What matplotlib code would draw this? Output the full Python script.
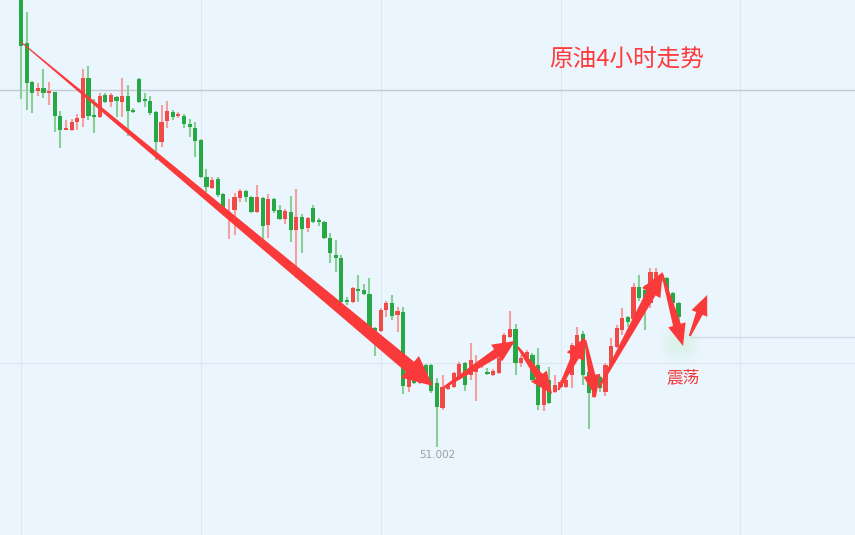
import numpy as np
import matplotlib
matplotlib.use("Agg")
from matplotlib import pyplot as plt
from matplotlib.patches import Polygon
from matplotlib.transforms import IdentityTransform

plt.rcParams['font.family'] = ['Noto Sans CJK SC', 'DejaVu Sans']

# 4h candles, crude oil (open, high, low, close)
opens = [55.55, 55.04, 54.65, 54.56, 54.59, 54.54, 54.55, 54.31, 54.17, 54.17,
         54.25, 54.29, 54.69, 54.32, 54.30, 54.52, 54.45, 54.50, 54.45, 54.51,
         54.37, 54.68, 54.48, 54.46, 54.35, 54.05, 54.26, 54.35, 54.31, 54.31,
         54.23, 54.19, 54.07, 53.70, 53.59, 53.68, 53.53, 53.32, 53.37, 53.49,
         53.56, 53.50, 53.35, 53.49, 53.22, 53.48, 53.37, 53.28, 53.35, 53.17,
         53.30, 53.19, 53.39, 53.26, 53.25, 53.09, 52.92, 52.89, 52.47, 52.45,
         52.58, 52.57, 52.53, 52.19, 52.16, 52.37, 52.44, 52.32, 52.35, 51.60,
         51.72, 51.64, 51.82, 51.82, 51.64, 51.39, 51.58, 51.60, 51.69, 51.84,
         51.72, 51.75, 51.81, 51.75, 51.72, 51.74, 52.00, 52.10, 52.18, 51.84,
         51.88, 51.92, 51.82, 51.42, 51.67, 51.55, 51.60, 51.60, 51.72, 51.89,
         52.13, 51.75, 51.50, 51.70, 51.55, 51.82, 52.00, 52.17, 52.30, 52.28,
         52.60, 52.57, 52.44, 52.62, 52.72, 52.69, 52.54, 52.44]
highs = [55.62, 55.35, 54.66, 54.64, 54.78, 54.65, 54.55, 54.36, 54.27, 54.28,
         54.33, 54.78, 54.81, 54.48, 54.54, 54.54, 54.54, 54.51, 54.69, 54.62,
         54.39, 54.69, 54.54, 54.51, 54.36, 54.42, 54.46, 54.37, 54.35, 54.33,
         54.28, 54.25, 54.08, 53.78, 53.70, 53.70, 53.54, 53.48, 53.54, 53.58,
         53.57, 53.51, 53.62, 53.50, 53.53, 53.49, 53.42, 53.38, 53.51, 53.58,
         53.33, 53.30, 53.42, 53.29, 53.26, 53.14, 53.07, 52.92, 52.50, 52.60,
         52.72, 52.63, 52.69, 52.20, 52.39, 52.46, 52.52, 52.40, 52.40, 51.75,
         51.80, 51.84, 51.83, 51.83, 51.69, 51.72, 51.63, 51.75, 51.85, 51.85,
         52.04, 51.92, 51.85, 51.79, 51.78, 51.90, 52.14, 52.36, 52.23, 51.92,
         51.97, 51.94, 51.99, 51.72, 51.80, 51.72, 51.67, 51.74, 52.04, 52.20,
         52.16, 51.77, 51.65, 51.71, 51.84, 52.09, 52.22, 52.39, 52.31, 52.64,
         52.72, 52.62, 52.79, 52.79, 52.74, 52.70, 52.55, 52.45]
lows = [54.48, 54.37, 54.34, 54.51, 54.49, 54.42, 54.15, 53.99, 54.17, 54.16,
        54.17, 54.20, 54.27, 54.14, 54.29, 54.44, 54.40, 54.30, 54.30, 54.11,
        54.34, 54.44, 54.40, 54.32, 53.87, 54.00, 54.19, 54.27, 54.29, 54.19,
        54.10, 53.90, 53.69, 53.55, 53.58, 53.50, 53.32, 53.08, 53.12, 53.45,
        53.45, 53.34, 53.34, 52.98, 53.09, 53.34, 53.27, 53.23, 53.05, 52.69,
        52.94, 53.15, 53.24, 53.21, 53.08, 52.84, 52.75, 52.34, 52.42, 52.44,
        52.45, 52.52, 52.17, 51.91, 52.15, 52.30, 52.27, 52.15, 51.53, 51.55,
        51.63, 51.63, 51.66, 51.54, 51.002, 51.37, 51.57, 51.59, 51.67, 51.56,
        51.67, 51.46, 51.79, 51.72, 51.71, 51.73, 51.99, 52.09, 51.72, 51.80,
        51.85, 51.65, 51.37, 51.36, 51.43, 51.54, 51.59, 51.59, 51.59, 51.87,
        51.62, 51.18, 51.49, 51.55, 51.51, 51.81, 51.99, 52.12, 52.20, 52.27,
        52.46, 52.17, 52.39, 52.59, 52.65, 52.54, 52.29, 52.17]
closes = [55.01, 54.64, 54.54, 54.59, 54.54, 54.55, 54.31, 54.17, 54.19, 54.25,
          54.29, 54.69, 54.31, 54.30, 54.51, 54.45, 54.52, 54.46, 54.51, 54.36,
          54.35, 54.45, 54.46, 54.34, 54.05, 54.25, 54.36, 54.30, 54.33, 54.23,
          54.20, 54.06, 53.70, 53.60, 53.67, 53.52, 53.34, 53.35, 53.50, 53.56,
          53.50, 53.35, 53.50, 53.21, 53.48, 53.36, 53.28, 53.36, 53.17, 53.30,
          53.18, 53.29, 53.25, 53.25, 53.09, 52.94, 52.89, 52.45, 52.45, 52.59,
          52.56, 52.53, 52.19, 52.15, 52.37, 52.44, 52.31, 52.36, 51.61, 51.74,
          51.64, 51.81, 51.67, 51.56, 51.40, 51.60, 51.62, 51.74, 51.83, 51.62,
          51.87, 51.83, 51.84, 51.73, 51.76, 51.89, 52.12, 52.18, 51.84, 51.89,
          51.95, 51.67, 51.42, 51.59, 51.44, 51.62, 51.65, 51.67, 52.02, 52.12,
          51.72, 51.54, 51.64, 51.59, 51.82, 52.01, 52.19, 52.29, 52.25, 52.60,
          52.49, 52.47, 52.75, 52.75, 52.68, 52.56, 52.44, 52.30]

# hand-drawn trend arrows: (candle index, price) start -> end
arrow_starts = [(0, 55.05), (75.1, 51.59), (88.4, 52.00), (95.6, 51.57),
                (100.4, 52.07), (102.8, 51.59), (114.1, 52.73), (119.0, 52.11)]
arrow_ends = [(73.3, 51.61), (87.9, 52.06), (94.5, 51.53), (100.4, 52.10),
              (102.3, 51.50), (114.2, 52.75), (117.8, 52.01), (122.1, 52.52)]

title_text = "原油4小时走势"
note_text = "震荡"

bg = '#ebf5fd'
up_body, up_wick = '#f04a46', '#f3a09e'
dn_body, dn_wick = '#27a844', '#86cf95'
arrow_col = '#fa3a3a'

fig = plt.figure(figsize=(8.55, 5.35), dpi=100)
fig.patch.set_facecolor(bg)
ax = fig.add_axes([0, 0, 1, 1])
ax.set_facecolor(bg)
for s in ax.spines.values():
    s.set_visible(False)
ax.set_xticks([])
ax.set_yticks([])
ax.set_xlim(-3.74, 148.4)
ax.set_ylim(50.12, 55.47)

# grid
for gx in [0, 32, 64, 96, 128]:
    ax.axvline(gx, color='#dce7f2', lw=0.8, zorder=0)
ax.axhline(51.84, color='#dce7f2', lw=0.8, zorder=0)
ax.axhline(54.57, color='#c4cad2', lw=1.0, zorder=0)
ax.plot([119, 148.4], [closes[-1] - 0.2, closes[-1] - 0.2], color='#d2dde9', lw=1.0, zorder=0)

o = np.array(opens); h = np.array(highs); l = np.array(lows); c = np.array(closes)
idx = np.arange(len(o))
up = c >= o
wick_cols = np.where(up, up_wick, dn_wick)
body_cols = np.where(up, up_body, dn_body)
ax.vlines(idx, l, h, colors=wick_cols, lw=1.5, zorder=2)
bottoms = np.minimum(o, c)
heights = np.maximum(np.abs(c - o), 0.015)
ax.bar(idx, heights, bottom=bottoms, width=0.74, color=body_cols, zorder=3)

# glow at the last swing
for r, a in [(1000, 0.06), (650, 0.08), (380, 0.1), (170, 0.12)]:
    ax.scatter([117.3], [52.05], s=r, color='#bfeec6', alpha=a, lw=0, zorder=1)


def big_arrow(p0, p1, w0, w1, hl, hw):
    a = ax.transData.transform(p0)
    b = ax.transData.transform(p1)
    d = b - a
    L = np.hypot(*d)
    u = d / L
    n = np.array([-u[1], u[0]])
    base = b - u * min(hl, L * 0.8)
    pts = [a + n * w0 / 2, base + n * w1 / 2, base + n * hw / 2, b,
           base - n * hw / 2, base - n * w1 / 2, a - n * w0 / 2]
    ax.add_patch(Polygon(pts, closed=True, transform=IdentityTransform(),
                         fc=arrow_col, ec='none', zorder=5))


sizes = [(1, 13, 30, 28), (2, 9, 22, 20), (2, 8, 22, 19), (2, 8, 22, 19),
         (2, 7, 22, 17), (2, 10, 24, 21), (2, 8, 22, 18), (2, 7, 20, 17)]
for p0, p1, sz in zip(arrow_starts, arrow_ends, sizes):
    big_arrow(p0, p1, *sz)

ax.text(107.8, 54.87, title_text, color='#ff3a3a', fontsize=17,
        ha='center', va='center', zorder=6)
ax.text(117.8, 51.69, note_text, color='#f03a3a', fontsize=12,
        ha='center', va='center', zorder=6)
lo_i = int(np.argmin(l))
ax.text(lo_i, l[lo_i] - 0.03, f"{l[lo_i]:.3f}", color='#9a9ea4', fontsize=7.5,
        ha='center', va='top', family=['DejaVu Sans'], zorder=6)

fig.savefig('out.png', dpi=100, facecolor=bg)
